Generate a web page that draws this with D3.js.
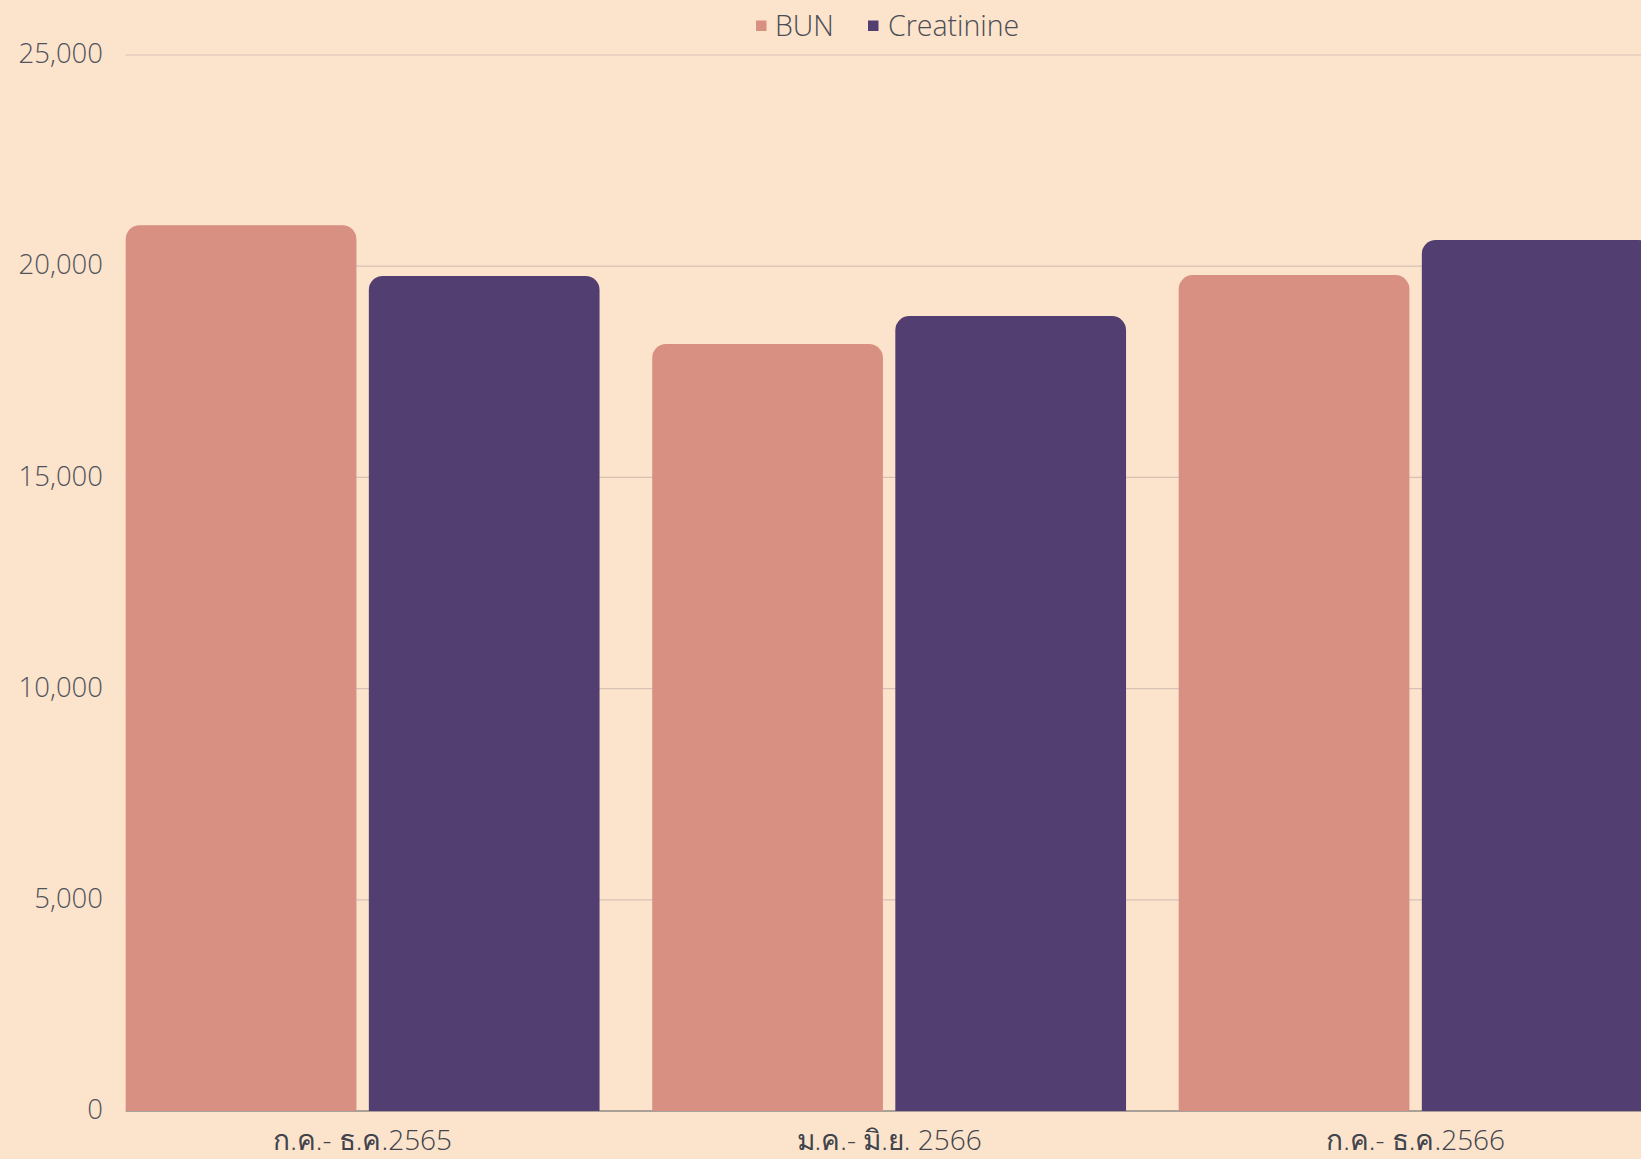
<!DOCTYPE html>
<html><head><meta charset="utf-8">
<script src="https://cdn.jsdelivr.net/npm/d3@7"></script>
<style>
html,body{margin:0;padding:0;background:#FCE3CB;}
svg{display:block;}
text{font-family:"Open Sans",sans-serif;font-weight:300;}
</style></head><body>
<svg id="c" width="1641" height="1159"></svg>
<script>
const categories = ["ก.ค.- ธ.ค.2565", "ม.ค.- มิ.ย. 2566", "ก.ค.- ธ.ค.2566"];
const seriesNames = ["BUN", "Creatinine"];
const bunValues = [20970, 18160, 19790];
const creatinineValues = [19770, 18820, 20620];
const yTicks = [0, 5000, 10000, 15000, 20000, 25000];
const colors = ["#D89082", "#523E71"];

const W = 1641, H = 1159;
const svg = d3.select("#c");
svg.append("rect").attr("width", W).attr("height", H).attr("fill", "#FCE3CB");

const x0 = 125.7, yTop = 55, yBot = 1111;
const x = d3.scaleBand().domain(categories).range([x0, x0 + 526.5 * 2.9]).paddingInner(0.1).paddingOuter(0);
const xs = d3.scaleBand().domain(seriesNames).range([0, x.bandwidth()]).paddingInner(0.051);
const y = d3.scaleLinear().domain([0, 25000]).range([yBot, yTop]);

// gridlines
svg.append("g").selectAll("line").data(yTicks.filter(d => d > 0)).join("line")
  .attr("x1", x0).attr("x2", W).attr("y1", d => y(d)).attr("y2", d => y(d))
  .attr("stroke", "#D5C2B5").attr("stroke-width", 1.2);

// baseline
svg.append("line").attr("x1", x0).attr("x2", W).attr("y1", y(0)).attr("y2", y(0))
  .attr("stroke", "#8E8A86").attr("stroke-width", 1.5);

// y axis labels
const yAxis = d3.axisLeft(y).tickValues(yTicks).tickFormat(d3.format(",")).tickSize(0).tickPadding(0);
const ya = svg.append("g").attr("transform", "translate(103,0)").call(yAxis);
ya.select(".domain").remove();
ya.selectAll("text").attr("font-size", 27.5).attr("fill", "#50535C")
  .attr("font-family", "'Open Sans',sans-serif").attr("font-weight", 300).attr("dy", "0.28em");

// bars
const data = [];
categories.forEach((c, i) => {
  data.push({cat: c, s: "BUN", v: bunValues[i]});
  data.push({cat: c, s: "Creatinine", v: creatinineValues[i]});
});
function topRounded(xl, yt, w, yb, r) {
  return `M${xl},${yb}V${yt + r}A${r},${r} 0 0 1 ${xl + r},${yt}H${xl + w - r}A${r},${r} 0 0 1 ${xl + w},${yt + r}V${yb}Z`;
}
svg.append("g").selectAll("path").data(data).join("path")
  .attr("d", d => topRounded(x(d.cat) + xs(d.s), y(d.v), xs.bandwidth(), y(0), 14))
  .attr("fill", d => colors[seriesNames.indexOf(d.s)]);

// x labels
const xAxis = d3.axisBottom(x).tickSize(0).tickPadding(0);
const xa = svg.append("g").attr("transform", `translate(0,${yBot})`).call(xAxis);
xa.select(".domain").remove();
xa.selectAll("text").attr("font-size", 28).attr("fill", "#41444D")
  .attr("font-family", "'Open Sans',sans-serif").attr("font-weight", 300)
  .attr("dy", 0).attr("y", 39);

// legend
const leg = svg.append("g");
const legItems = [{n: "BUN", sx: 756, tx: 775}, {n: "Creatinine", sx: 868, tx: 888}];
legItems.forEach((it, i) => {
  leg.append("rect").attr("x", it.sx).attr("y", 20.5).attr("width", 10.5).attr("height", 10.5).attr("fill", colors[i]);
  leg.append("text").attr("x", it.tx).attr("y", 36).attr("font-size", 28.5).attr("fill", "#4A4D56").text(it.n);
});
</script>
</body></html>
